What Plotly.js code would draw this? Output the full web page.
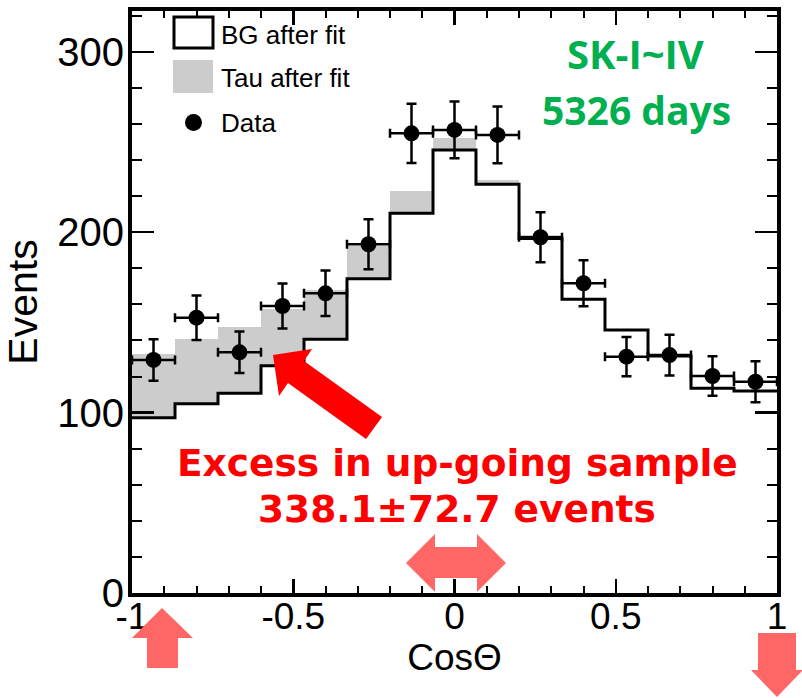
<!DOCTYPE html>
<html>
<head>
<meta charset="utf-8">
<script src="https://cdn.plot.ly/plotly-3.0.1.min.js"></script>
<style>html,body{margin:0;padding:0;background:#fff;}#chart{width:802px;height:698px;}</style>
</head>
<body>
<div id="chart"></div>
<script>
// ---- data ----
const cosCenters = [-0.9333, -0.8, -0.6667, -0.5333, -0.4, -0.2667, -0.1333, 0, 0.1333, 0.2667, 0.4, 0.5333, 0.6667, 0.8, 0.9333];
const binWidth = 2 / 15;
const bgAfterFit = [97.2, 104.9, 110.7, 126, 140.6, 174.2, 210.5, 245.6, 226.6, 196.5, 162.8, 145.8, 131.4, 113.5, 112];
const tauAfterFit = [35.3, 35.7, 36.9, 31.3, 27.4, 18.1, 12.3, 6.4, 2.3, 1.9, 0.8, 0.8, 0.8, 0.8, 0.8];
const dataEvents = [129.2, 152.6, 133.4, 159.1, 166.1, 193.3, 254.8, 256.7, 253.9, 197.2, 171.7, 131, 131.9, 120.3, 117.1];
const dataErr = [11.5, 12.3, 11.5, 12.5, 12.6, 13.9, 16.4, 15.7, 15.7, 13.9, 12.7, 10.9, 11.3, 10.9, 11.4];
const xTickVals = [-1, -0.5, 0, 0.5, 1];
const xTickText = ['-1', '-0.5', '0', '0.5', '1'];
const yTickVals = [0, 100, 200, 300];
const yTickText = ['0', '100', '200', '300'];

// step outline edges derived from bin centres
const binEdges = cosCenters.map(c => c - binWidth / 2).concat([cosCenters[cosCenters.length - 1] + binWidth / 2]);
const bgStep = bgAfterFit.concat([bgAfterFit[bgAfterFit.length - 1]]);

// ---- page geometry (decorations drawn in pixel space) ----
const W = 802, H = 698;
const M = {l: 132, r: 25, t: 11, b: 105};
const PW = W - M.l - M.r, PH = H - M.t - M.b;
const xp = px => (px - M.l) / PW;
const yp = py => (H - M.b - py) / PH;
const poly = pts => 'M' + pts.map(p => xp(p[0]).toFixed(5) + ',' + yp(p[1]).toFixed(5)).join('L') + 'Z';

const redArrow = [[273,355],[312,349],[304,361],[382,417],[366,439],[288,383],[279,396]];
const upArrow = [[162,608],[193,638],[178,638],[178,668],[147,668],[147,638],[132,638]];
const dblArrow = [[406,563],[435,534],[435,547],[477,547],[477,534],[506,563],[477,592],[477,578],[435,578],[435,592]];
const downArrow = [[758,633],[796,633],[796,670],[803,670],[777,697],[751,670],[758,670]];

const traces = [
  {
    type: 'bar', x: cosCenters, y: tauAfterFit, base: bgAfterFit, width: binWidth,
    marker: {color: '#cccccc', line: {width: 0}}, name: 'Tau after fit', hoverinfo: 'skip'
  },
  {
    type: 'scatter', mode: 'lines', x: binEdges, y: bgStep,
    line: {shape: 'hv', color: '#000', width: 3}, name: 'BG after fit', hoverinfo: 'skip'
  },
  {
    type: 'scatter', mode: 'markers', x: cosCenters, y: dataEvents, name: 'Data',
    marker: {color: '#000', size: 16},
    error_y: {type: 'data', array: dataErr, color: '#000', thickness: 2.5, width: 5},
    error_x: {type: 'constant', value: binWidth / 2, color: '#000', thickness: 2.5, width: 4.5}
  }
];

const axisCommon = {
  showgrid: false, zeroline: false, showline: true, linecolor: '#000', linewidth: 4,
  mirror: 'ticks', ticks: 'inside', tickcolor: '#000', tickwidth: 2.5,
  tickfont: {family: 'Liberation Sans, Arial, sans-serif', color: '#000'}
};

const layout = {
  width: W, height: H, margin: M, showlegend: false,
  paper_bgcolor: '#fff', plot_bgcolor: '#fff', bargap: 0,
  font: {family: 'Liberation Sans, Arial, sans-serif', color: '#000'},
  xaxis: Object.assign({}, axisCommon, {
    range: [-1, 1], tickmode: 'array', tickvals: xTickVals, ticktext: xTickText, ticklen: 14,
    ticklabelstandoff: -12,
    tickfont: {family: 'Liberation Sans, Arial, sans-serif', size: 37, color: '#000'},
    minor: {dtick: 0.1, ticks: 'inside', ticklen: 7, tickwidth: 2, tickcolor: '#000'},
    title: {text: 'Cos\u0398', font: {size: 37, color: '#000'}, standoff: 4}
  }),
  yaxis: Object.assign({}, axisCommon, {
    range: [0, 322.6], tickmode: 'array', tickvals: yTickVals, ticktext: yTickText, ticklen: 22,
    ticklabelstandoff: -4,
    tickfont: {family: 'Liberation Sans, Arial, sans-serif', size: 40, color: '#000'},
    minor: {dtick: 20, ticks: 'inside', ticklen: 10, tickwidth: 2, tickcolor: '#000'},
    title: {text: 'Events', font: {size: 41, color: '#000'}, standoff: 10}
  }),
  shapes: [
    {type: 'rect', xref: 'paper', yref: 'paper', x0: xp(174), x1: xp(213), y0: yp(48), y1: yp(17), line: {color: '#000', width: 3}, fillcolor: '#fff'},
    {type: 'rect', xref: 'paper', yref: 'paper', x0: xp(173), x1: xp(213), y0: yp(93), y1: yp(60), line: {width: 0}, fillcolor: '#cccccc'},
    {type: 'circle', xref: 'paper', yref: 'paper', x0: xp(185), x1: xp(202), y0: yp(131), y1: yp(114), line: {width: 0}, fillcolor: '#000'},
    {type: 'path', xref: 'paper', yref: 'paper', path: poly(redArrow), fillcolor: '#ff0000', line: {width: 0}},
    {type: 'path', xref: 'paper', yref: 'paper', path: poly(upArrow), fillcolor: '#ff6666', line: {width: 0}},
    {type: 'path', xref: 'paper', yref: 'paper', path: poly(dblArrow), fillcolor: '#ff6666', line: {width: 0}},
    {type: 'path', xref: 'paper', yref: 'paper', path: poly(downArrow), fillcolor: '#ff6666', line: {width: 0}}
  ],
  annotations: [
    {xref: 'paper', yref: 'paper', x: xp(219), y: yp(35), xanchor: 'left', yanchor: 'middle', showarrow: false, text: 'BG after fit', font: {size: 26, color: '#000'}},
    {xref: 'paper', yref: 'paper', x: xp(219), y: yp(78), xanchor: 'left', yanchor: 'middle', showarrow: false, text: 'Tau after fit', font: {size: 26, color: '#000'}},
    {xref: 'paper', yref: 'paper', x: xp(219), y: yp(123), xanchor: 'left', yanchor: 'middle', showarrow: false, text: 'Data', font: {size: 26, color: '#000'}},
    {xref: 'paper', yref: 'paper', x: xp(635), y: yp(54), xanchor: 'center', yanchor: 'middle', showarrow: false, text: '<b>SK-I~IV</b>', font: {family: 'Open Sans, sans-serif', size: 40, color: '#00b050'}},
    {xref: 'paper', yref: 'paper', x: xp(636), y: yp(110), xanchor: 'center', yanchor: 'middle', showarrow: false, text: '<b>5326 days</b>', font: {family: 'Open Sans, sans-serif', size: 39, color: '#00b050'}},
    {xref: 'paper', yref: 'paper', x: xp(457), y: yp(463), xanchor: 'center', yanchor: 'middle', showarrow: false, text: '<b>Excess in up-going sample</b>', font: {family: 'DejaVu Sans, sans-serif', size: 37.5, color: '#ff0000'}},
    {xref: 'paper', yref: 'paper', x: xp(457), y: yp(509), xanchor: 'center', yanchor: 'middle', showarrow: false, text: '<b>338.1\u00b172.7 events</b>', font: {family: 'DejaVu Sans, sans-serif', size: 37.5, color: '#ff0000'}}
  ]
};

Plotly.newPlot('chart', traces, layout, {displayModeBar: false, staticPlot: true});
</script>
</body>
</html>
